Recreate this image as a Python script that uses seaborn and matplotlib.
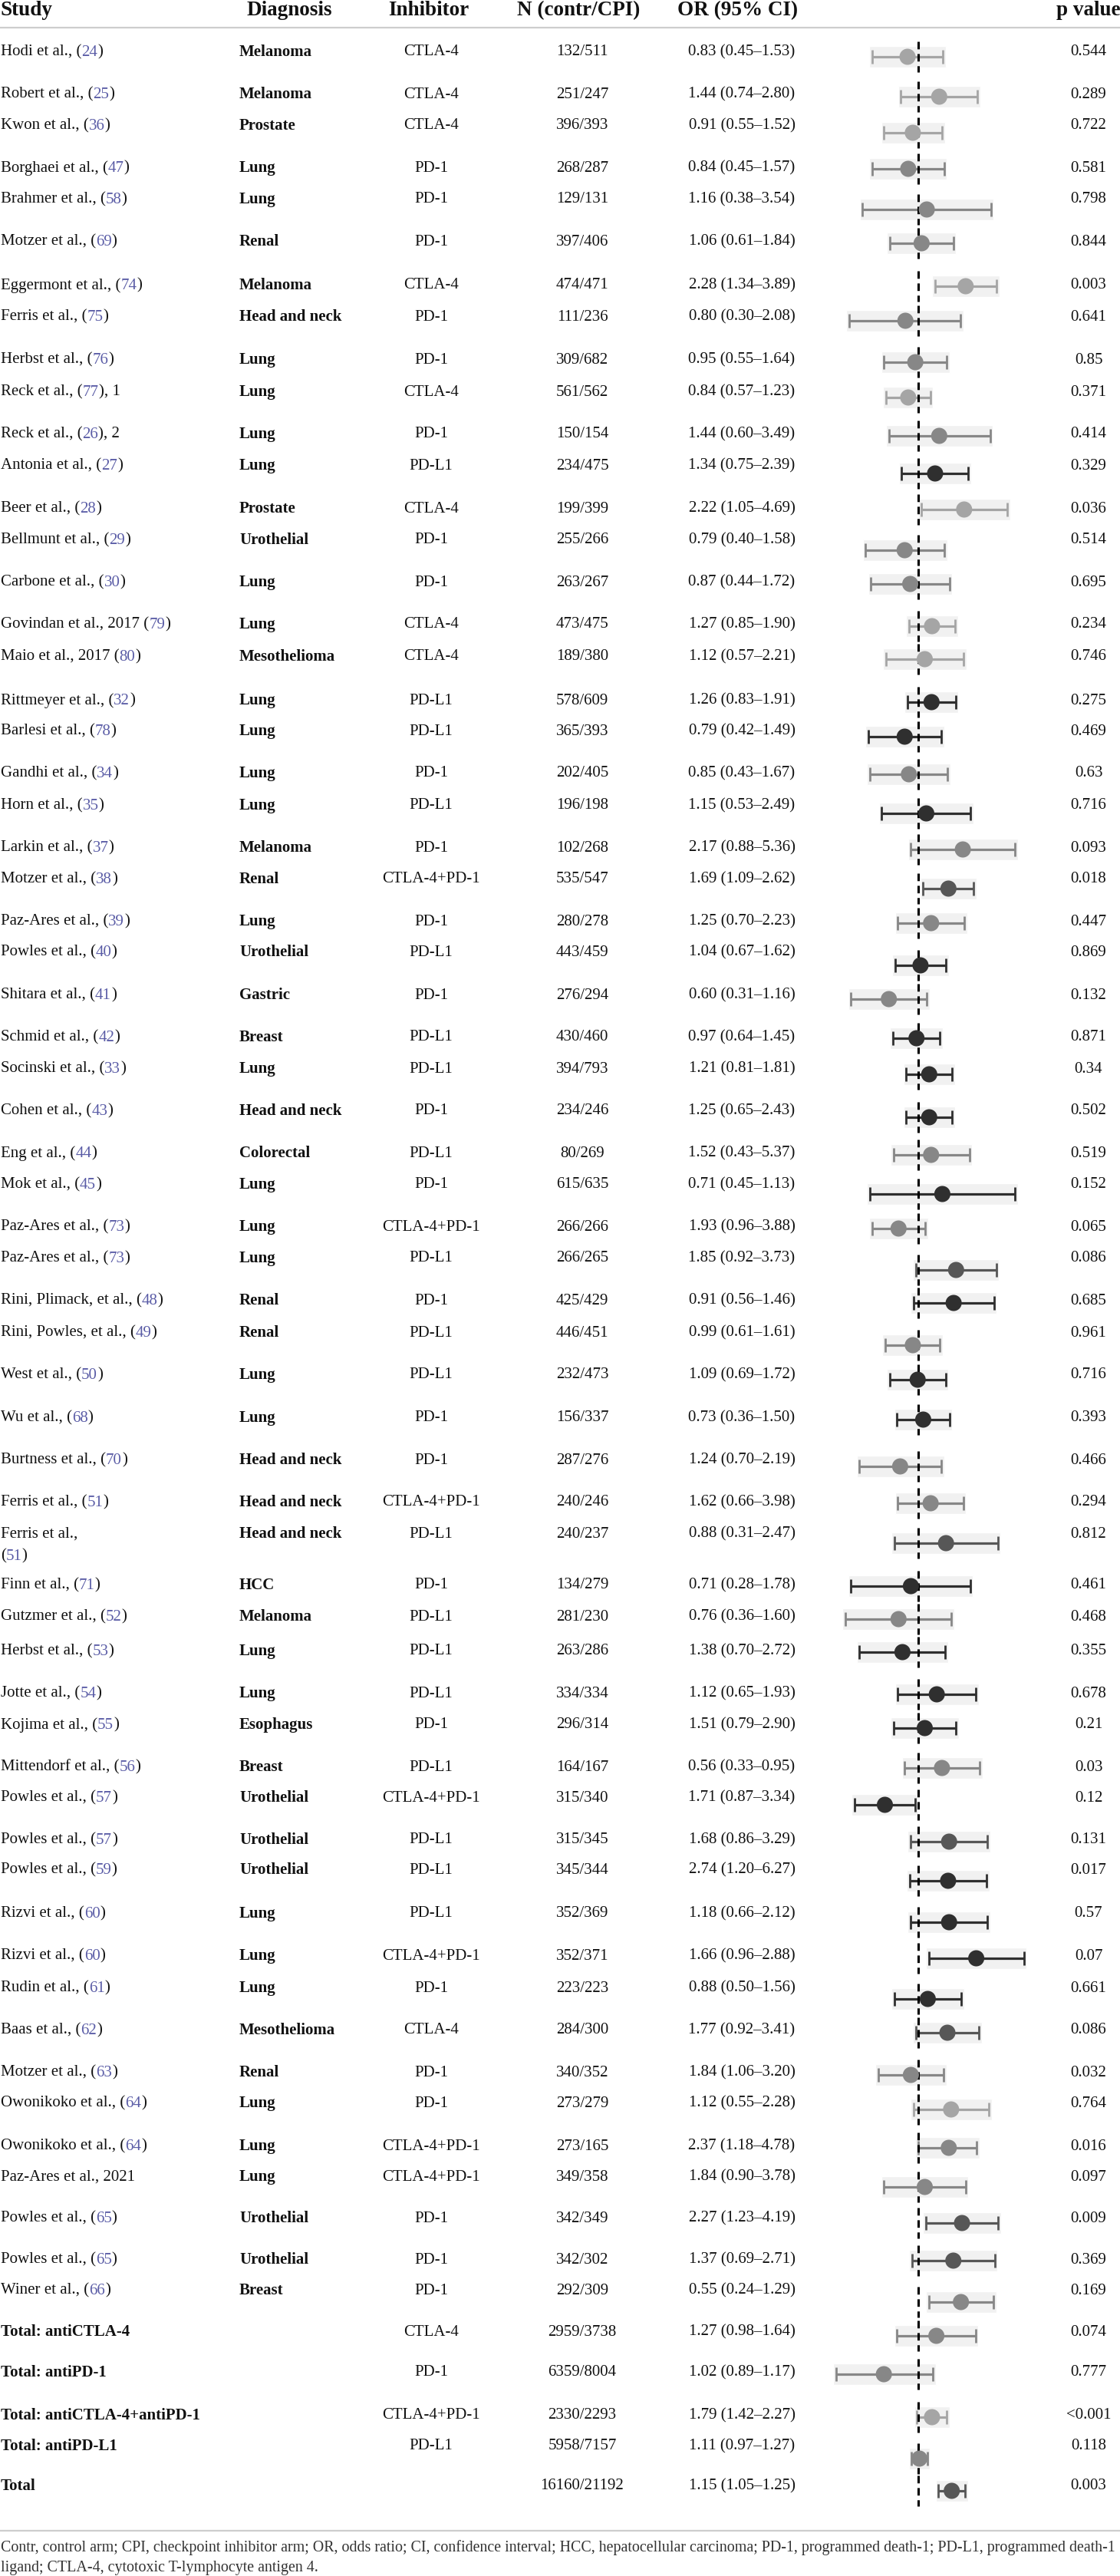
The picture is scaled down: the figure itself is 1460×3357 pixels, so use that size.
import re
import numpy as np
import pandas as pd
import matplotlib
matplotlib.use("Agg")
import matplotlib.pyplot as plt
import seaborn as sns

W, H = 1460, 3357

# ---------------- table data ----------------
study = [
    "Hodi et al., (24)", "Robert et al., (25)", "Kwon et al., (36)", "Borghaei et al., (47)",
    "Brahmer et al., (58)", "Motzer et al., (69)", "Eggermont et al., (74)", "Ferris et al., (75)",
    "Herbst et al., (76)", "Reck et al., (77), 1", "Reck et al., (26), 2", "Antonia et al., (27)",
    "Beer et al., (28)", "Bellmunt et al., (29)", "Carbone et al., (30)", "Govindan et al., 2017 (79)",
    "Maio et al., 2017 (80)", "Rittmeyer et al., (32)", "Barlesi et al., (78)", "Gandhi et al., (34)",
    "Horn et al., (35)", "Larkin et al., (37)", "Motzer et al., (38)", "Paz-Ares et al., (39)",
    "Powles et al., (40)", "Shitara et al., (41)", "Schmid et al., (42)", "Socinski et al., (33)",
    "Cohen et al., (43)", "Eng et al., (44)", "Mok et al., (45)", "Paz-Ares et al., (73)",
    "Paz-Ares et al., (73)", "Rini, Plimack, et al., (48)", "Rini, Powles, et al., (49)", "West et al., (50)",
    "Wu et al., (68)", "Burtness et al., (70)", "Ferris et al., (51)", "Ferris et al.,\n(51)",
    "Finn et al., (71)", "Gutzmer et al., (52)", "Herbst et al., (53)", "Jotte et al., (54)",
    "Kojima et al., (55)", "Mittendorf et al., (56)", "Powles et al., (57)", "Powles et al., (57)",
    "Powles et al., (59)", "Rizvi et al., (60)", "Rizvi et al., (60)", "Rudin et al., (61)",
    "Baas et al., (62)", "Motzer et al., (63)", "Owonikoko et al., (64)", "Owonikoko et al., (64)",
    "Paz-Ares et al., 2021", "Powles et al., (65)", "Powles et al., (65)", "Winer et al., (66)",
    "Total: antiCTLA-4", "Total: antiPD-1", "Total: antiCTLA-4+antiPD-1", "Total: antiPD-L1", "Total",
]
diagnosis = [
    "Melanoma", "Melanoma", "Prostate", "Lung", "Lung", "Renal", "Melanoma", "Head and neck",
    "Lung", "Lung", "Lung", "Lung", "Prostate", "Urothelial", "Lung", "Lung",
    "Mesothelioma", "Lung", "Lung", "Lung", "Lung", "Melanoma", "Renal", "Lung",
    "Urothelial", "Gastric", "Breast", "Lung", "Head and neck", "Colorectal", "Lung", "Lung",
    "Lung", "Renal", "Renal", "Lung", "Lung", "Head and neck", "Head and neck", "Head and neck",
    "HCC", "Melanoma", "Lung", "Lung", "Esophagus", "Breast", "Urothelial", "Urothelial",
    "Urothelial", "Lung", "Lung", "Lung", "Mesothelioma", "Renal", "Lung", "Lung",
    "Lung", "Urothelial", "Urothelial", "Breast", "", "", "", "", "",
]
inhibitor = [
    "CTLA-4", "CTLA-4", "CTLA-4", "PD-1", "PD-1", "PD-1", "CTLA-4", "PD-1",
    "PD-1", "CTLA-4", "PD-1", "PD-L1", "CTLA-4", "PD-1", "PD-1", "CTLA-4",
    "CTLA-4", "PD-L1", "PD-L1", "PD-1", "PD-L1", "PD-1", "CTLA-4+PD-1", "PD-1",
    "PD-L1", "PD-1", "PD-L1", "PD-L1", "PD-1", "PD-L1", "PD-1", "CTLA-4+PD-1",
    "PD-L1", "PD-1", "PD-L1", "PD-L1", "PD-1", "PD-1", "CTLA-4+PD-1", "PD-L1",
    "PD-1", "PD-L1", "PD-L1", "PD-L1", "PD-1", "PD-L1", "CTLA-4+PD-1", "PD-L1",
    "PD-L1", "PD-L1", "CTLA-4+PD-1", "PD-1", "CTLA-4", "PD-1", "PD-1", "CTLA-4+PD-1",
    "CTLA-4+PD-1", "PD-1", "PD-1", "PD-1",
    "CTLA-4", "PD-1", "CTLA-4+PD-1", "PD-L1", "",
]
n_arms = [
    "132/511", "251/247", "396/393", "268/287", "129/131", "397/406", "474/471", "111/236",
    "309/682", "561/562", "150/154", "234/475", "199/399", "255/266", "263/267", "473/475",
    "189/380", "578/609", "365/393", "202/405", "196/198", "102/268", "535/547", "280/278",
    "443/459", "276/294", "430/460", "394/793", "234/246", "80/269", "615/635", "266/266",
    "266/265", "425/429", "446/451", "232/473", "156/337", "287/276", "240/246", "240/237",
    "134/279", "281/230", "263/286", "334/334", "296/314", "164/167", "315/340", "315/345",
    "345/344", "352/369", "352/371", "223/223", "284/300", "340/352", "273/279", "273/165",
    "349/358", "342/349", "342/302", "292/309",
    "2959/3738", "6359/8004", "2330/2293", "5958/7157", "16160/21192",
]
or_est = [
    0.83, 1.44, 0.91, 0.84, 1.16, 1.06, 2.28, 0.80, 0.95, 0.84, 1.44, 1.34, 2.22, 0.79, 0.87, 1.27,
    1.12, 1.26, 0.79, 0.85, 1.15, 2.17, 1.69, 1.25, 1.04, 0.60, 0.97, 1.21, 1.25, 1.52, 0.71, 1.93,
    1.85, 0.91, 0.99, 1.09, 0.73, 1.24, 1.62, 0.88, 0.71, 0.76, 1.38, 1.12, 1.51, 0.56, 1.71, 1.68,
    2.74, 1.18, 1.66, 0.88, 1.77, 1.84, 1.12, 2.37, 1.84, 2.27, 1.37, 0.55,
    1.27, 1.02, 1.79, 1.11, 1.15,
]
or_lo = [
    0.45, 0.74, 0.55, 0.45, 0.38, 0.61, 1.34, 0.30, 0.55, 0.57, 0.60, 0.75, 1.05, 0.40, 0.44, 0.85,
    0.57, 0.83, 0.42, 0.43, 0.53, 0.88, 1.09, 0.70, 0.67, 0.31, 0.64, 0.81, 0.65, 0.43, 0.45, 0.96,
    0.92, 0.56, 0.61, 0.69, 0.36, 0.70, 0.66, 0.31, 0.28, 0.36, 0.70, 0.65, 0.79, 0.33, 0.87, 0.86,
    1.20, 0.66, 0.96, 0.50, 0.92, 1.06, 0.55, 1.18, 0.90, 1.23, 0.69, 0.24,
    0.98, 0.89, 1.42, 0.97, 1.05,
]
or_hi = [
    1.53, 2.80, 1.52, 1.57, 3.54, 1.84, 3.89, 2.08, 1.64, 1.23, 3.49, 2.39, 4.69, 1.58, 1.72, 1.90,
    2.21, 1.91, 1.49, 1.67, 2.49, 5.36, 2.62, 2.23, 1.62, 1.16, 1.45, 1.81, 2.43, 5.37, 1.13, 3.88,
    3.73, 1.46, 1.61, 1.72, 1.50, 2.19, 3.98, 2.47, 1.78, 1.60, 2.72, 1.93, 2.90, 0.95, 3.34, 3.29,
    6.27, 2.12, 2.88, 1.56, 3.41, 3.20, 2.28, 4.78, 3.78, 4.19, 2.71, 1.29,
    1.64, 1.17, 2.27, 1.27, 1.25,
]
p_value = [
    "0.544", "0.289", "0.722", "0.581", "0.798", "0.844", "0.003", "0.641",
    "0.85", "0.371", "0.414", "0.329", "0.036", "0.514", "0.695", "0.234",
    "0.746", "0.275", "0.469", "0.63", "0.716", "0.093", "0.018", "0.447",
    "0.869", "0.132", "0.871", "0.34", "0.502", "0.519", "0.152", "0.065",
    "0.086", "0.685", "0.961", "0.716", "0.393", "0.466", "0.294", "0.812",
    "0.461", "0.468", "0.355", "0.678", "0.21", "0.03", "0.12", "0.131",
    "0.017", "0.57", "0.07", "0.661", "0.086", "0.032", "0.764", "0.016",
    "0.097", "0.009", "0.369", "0.169",
    "0.074", "0.777", "<0.001", "0.118", "0.003",
]

# ---------------- forest marks as drawn in the figure ----------------
# (from Cohen et al. downwards the drawn mark is the one of the row above)
mark_est = [
    0.83, 1.44, 0.91, 0.84, 1.16, 1.06, 2.28, 0.80, 0.95, 0.84, 1.44, 1.34, 2.22, 0.79, 0.87, 1.27,
    1.12, 1.26, 0.79, 0.85, 1.15, 2.17, 1.69, 1.25, 1.04, 0.60, 0.97, 1.21,
    1.21, 1.25, 1.52, 0.71, 1.93, 1.85, 0.91, 0.99, 1.09, 0.73, 1.24, 1.62, 0.88, 0.71, 0.76, 1.38,
    1.12, 1.51, 0.56, 1.71, 1.68,
    1.71, 2.74, 1.18, 1.66, 0.88, 1.77, 1.70, 1.12, 2.14, 1.84, 2.10, 1.37, 0.55, 1.27, 1.02, 1.79,
]
mark_lo = [
    0.45, 0.74, 0.55, 0.45, 0.38, 0.61, 1.34, 0.30, 0.55, 0.57, 0.60, 0.75, 1.05, 0.40, 0.44, 0.85,
    0.57, 0.83, 0.42, 0.43, 0.53, 0.88, 1.09, 0.70, 0.67, 0.31, 0.64, 0.81,
    0.81, 0.65, 0.43, 0.45, 0.96, 0.92, 0.56, 0.61, 0.69, 0.36, 0.70, 0.66, 0.31, 0.28, 0.36, 0.70,
    0.65, 0.79, 0.33, 0.87, 0.86,
    0.87, 1.20, 0.66, 0.96, 0.50, 0.92, 1.00, 0.55, 1.14, 0.90, 1.20, 0.69, 0.24, 0.98, 0.89, 1.42,
]
mark_hi = [
    1.53, 2.80, 1.52, 1.57, 3.54, 1.84, 3.89, 2.08, 1.64, 1.23, 3.49, 2.39, 4.69, 1.58, 1.72, 1.90,
    2.21, 1.91, 1.49, 1.67, 2.49, 5.36, 2.62, 2.23, 1.62, 1.16, 1.45, 1.81,
    1.81, 2.43, 5.37, 1.13, 3.88, 3.73, 1.46, 1.61, 1.72, 1.50, 2.19, 3.98, 2.47, 1.78, 1.60, 2.72,
    1.93, 2.90, 0.95, 3.34, 3.29,
    3.34, 6.27, 2.12, 2.88, 1.56, 3.41, 2.76, 2.28, 4.00, 3.78, 3.70, 2.71, 1.29, 1.64, 1.17, 2.27,
]
mark_group = [
    "CTLA-4", "CTLA-4", "CTLA-4", "PD-1", "PD-1", "PD-1", "CTLA-4", "PD-1",
    "PD-1", "CTLA-4", "PD-1", "PD-L1", "CTLA-4", "PD-1", "PD-1", "CTLA-4",
    "CTLA-4", "PD-L1", "PD-L1", "PD-1", "PD-L1", "PD-1", "CTLA-4+PD-1", "PD-1",
    "PD-L1", "PD-1", "PD-L1", "PD-L1",
    "PD-L1", "PD-1", "PD-L1", "PD-1", "CTLA-4+PD-1", "PD-L1", "PD-1", "PD-L1",
    "PD-L1", "PD-1", "PD-1", "CTLA-4+PD-1", "PD-L1", "PD-1", "PD-L1", "PD-L1",
    "PD-L1", "PD-1", "PD-L1", "CTLA-4+PD-1", "PD-L1",
    "PD-L1", "PD-L1", "PD-L1", "CTLA-4+PD-1", "PD-1", "CTLA-4", "PD-1", "PD-1",
    "CTLA-4+PD-1", "CTLA-4+PD-1", "PD-1", "PD-1", "PD-1", "CTLA-4", "PD-1", "CTLA-4+PD-1",
]

# ---------------- layout (pixel rows) ----------------
row_y = [68, 123, 164, 219, 260, 315, 372, 413, 469, 511, 566, 607, 663, 704, 759, 814, 856, 913,
         953, 1008, 1050, 1105, 1146, 1201, 1241, 1297, 1352, 1393, 1448, 1503, 1544, 1599, 1640,
         1695, 1737, 1792, 1848, 1903, 1958, 1999, 2066, 2107, 2152, 2207, 2248, 2303, 2343, 2398,
         2437, 2494, 2549, 2591, 2646, 2701, 2741, 2797, 2837, 2891, 2945, 2985, 3039, 3092, 3148,
         3188, 3240]
mark_y = [74, 126, 173, 220, 273, 317, 373, 418, 472, 518, 568, 617, 664, 717, 761, 816, 859, 915,
          960, 1009, 1060, 1107, 1158, 1203, 1258, 1302, 1353, 1400, 1456, 1505, 1556, 1601, 1655,
          1698, 1753, 1798, 1850, 1911, 1959, 2011, 2067, 2110, 2153, 2208, 2252, 2304, 2352, 2400,
          2451, 2505, 2552, 2605, 2649, 2704, 2749, 2799, 2850, 2897, 2946, 3000, 3044, 3094, 3150,
          3204, 3246]

palette = {"CTLA-4": "#a5a5a5", "PD-1": "#878787", "PD-L1": "#2f2f2f", "CTLA-4+PD-1": "#575757"}
BLUE = "#5a5ca6"
INK = "#111111"
FS = 15

sns.set_theme(style="white")
plt.rcParams["font.family"] = ["Liberation Serif", "DejaVu Serif"]

fig = plt.figure(figsize=(W / 100, H / 100), dpi=100)
ax = fig.add_axes([0, 0, 1, 1])
ax.set_xlim(0, W)
ax.set_ylim(H, 0)
ax.axis("off")

# header
hdr = dict(fontsize=19.5, fontweight="bold", va="center", color=INK)
ax.text(1, 14, "Study", ha="left", **hdr)
ax.text(377, 14, "Diagnosis", ha="center", **hdr)
ax.text(559, 14, "Inhibitor", ha="center", **hdr)
ax.text(754, 14, "N (contr/CPI)", ha="center", **hdr)
ax.text(962, 14, "OR (95% CI)", ha="center", **hdr)
ax.text(1419, 14, "p value", ha="center", **hdr)
ax.plot([0, W], [36, 36], color="#cdcdcd", lw=1.6)
ax.plot([0, W], [3298, 3298], color="#cdcdcd", lw=1.6)


def draw_study(label, y, bold):
    weight = "bold" if bold else "normal"
    for j, line in enumerate(label.split("\n")):
        yy = y + 29 * j
        m = re.match(r"^(.*\()(\d+)(\).*)$", line)
        if not m:
            ax.text(1, yy, line, fontsize=FS, fontweight=weight, va="center", color=INK)
            continue
        pre, num, post = m.groups()
        t = ax.text(1, yy, pre, fontsize=FS, fontweight=weight, va="center", color=INK)
        t = ax.annotate(num, xy=(1, 0), xycoords=t, va="bottom", ha="left",
                        fontsize=FS, color=BLUE)
        ax.annotate(post, xy=(1, 0), xycoords=t, va="bottom", ha="left",
                    fontsize=FS, color=INK)


for i in range(len(study)):
    y = row_y[i]
    draw_study(study[i], y, study[i].startswith("Total"))
    ax.text(312, y, diagnosis[i], fontsize=FS, fontweight="bold", va="center", color=INK)
    ax.text(562, y, inhibitor[i], fontsize=FS, ha="center", va="center", color=INK)
    ax.text(759, y, n_arms[i], fontsize=FS, ha="center", va="center", color=INK)
    ax.text(967, y, f"{or_est[i]:.2f} ({or_lo[i]:.2f}\u2013{or_hi[i]:.2f})",
            fontsize=FS, ha="center", va="center", color=INK)
    ax.text(1419, y, p_value[i], fontsize=FS, ha="center", va="center", color=INK)

# ---------------- forest column ----------------
REF_PX, K = 1197, 75.0
FX0, FX1 = 1080, 1345
axf = fig.add_axes([FX0 / W, 0, (FX1 - FX0) / W, 1])
axf.set_xscale("log")

marks = pd.DataFrame({"est": mark_est, "lo": mark_lo, "hi": mark_hi,
                      "group": mark_group, "y": mark_y})

axf.barh(marks["y"], marks["hi"] * 1.05 - marks["lo"] / 1.05, left=marks["lo"] / 1.05,
         height=28, color="#f1f1f1", zorder=1)

for g, sub in marks.groupby("group"):
    axf.errorbar(sub["est"], sub["y"],
                 xerr=[sub["est"] - sub["lo"], sub["hi"] - sub["est"]],
                 fmt="none", ecolor=palette[g], elinewidth=2.3, capsize=6.8,
                 capthick=2.0, zorder=3)

axf.vlines(np.ones(len(marks)), marks["y"] - 20, marks["y"] + 20, colors="black",
           linewidth=2.2, linestyles=(0, (3.2, 2.0)), zorder=4)

sns.scatterplot(data=marks, x="est", y="y", hue="group", palette=palette, s=230,
                linewidth=0, legend=False, ax=axf, zorder=5)

axf.set_xlim(np.exp((FX0 - REF_PX) / K), np.exp((FX1 - REF_PX) / K))
axf.set_ylim(H, 0)
axf.axis("off")

# ---------------- footnote ----------------
foot1 = ("Contr, control arm; CPI, checkpoint inhibitor arm; OR, odds ratio; CI, confidence interval; "
         "HCC, hepatocellular carcinoma; PD-1, programmed death-1; PD-L1, programmed death-1")
foot2 = "ligand; CTLA-4, cytotoxic T-lymphocyte antigen 4."
t1 = ax.text(1, 3320, foot1, fontsize=13.5, va="center", color="#333333")
fig.canvas.draw()
w = t1.get_window_extent(renderer=fig.canvas.get_renderer()).width
fs_foot = 13.5 * 1456 / w
t1.set_fontsize(fs_foot)
ax.text(1, 3347, foot2, fontsize=fs_foot, va="center", color="#333333")

fig.savefig("out.png", dpi=100)
